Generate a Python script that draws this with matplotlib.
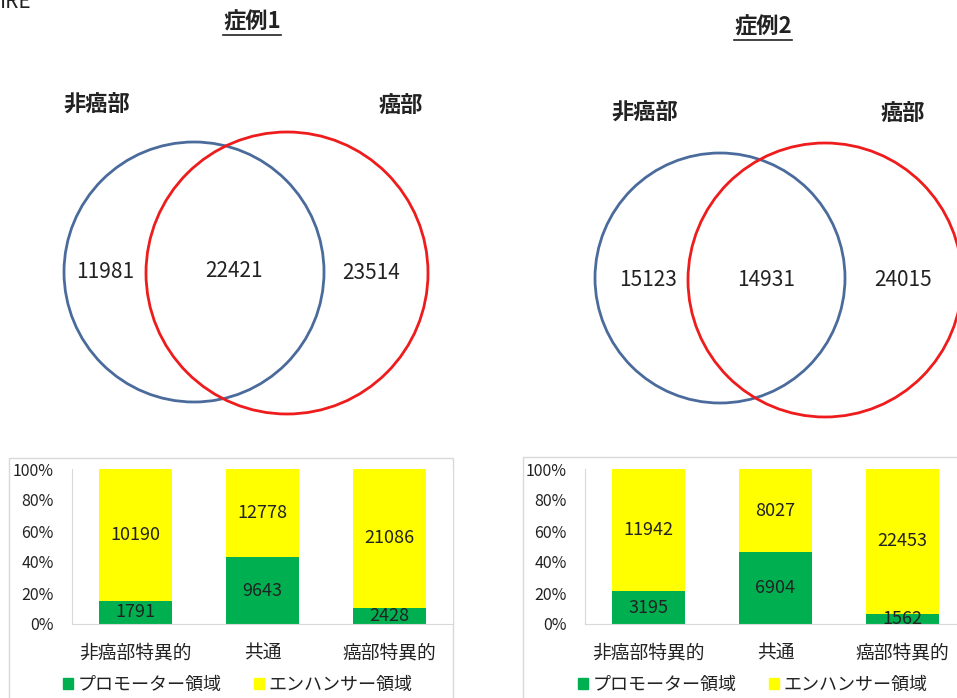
import matplotlib
matplotlib.use("Agg")
import matplotlib.pyplot as plt
from matplotlib.patches import Circle, Rectangle, Patch
from matplotlib.lines import Line2D
from matplotlib.ticker import PercentFormatter

plt.rcParams['font.family'] = ['Noto Sans CJK JP', 'DejaVu Sans']

# ベン図の数値 (非癌部のみ, 共通, 癌部のみ)
venn_case1 = [11981, 22421, 23514]
venn_case2 = [15123, 14931, 24015]

categories = ['非癌部特異的', '共通', '癌部特異的']
promoter_case1 = [1791, 9643, 2428]
enhancer_case1 = [10190, 12778, 21086]
promoter_case2 = [3195, 6904, 1562]
enhancer_case2 = [11942, 8027, 22453]

GREEN = '#00b050'
YELLOW = '#ffff00'
BLUE = '#4a6b9b'
RED = '#ee1c1c'
GRID = '#d9d9d9'
INK = '#222222'

W, H = 957, 698
fig = plt.figure(figsize=(W / 100, H / 100), dpi=100)

# 全体を覆うピクセル座標の軸 (ベン図, 見出し, 枠)
ov = fig.add_axes([0, 0, 1, 1])
ov.set_xlim(0, W)
ov.set_ylim(H, 0)
ov.axis('off')

ov.text(0, 8, 'IRE', fontsize=15, va='baseline', ha='left', color=INK)


def draw_venn(blue, red, label_l, label_r, counts, text_pos):
    ov.add_patch(Circle(blue[:2], blue[2], fill=False, ec=BLUE, lw=2.0))
    ov.add_patch(Circle(red[:2], red[2], fill=False, ec=RED, lw=2.0))
    ov.text(*label_l, '非癌部', fontsize=16, fontweight='bold', ha='center', va='center', color=INK)
    ov.text(*label_r, '癌部', fontsize=16, fontweight='bold', ha='center', va='center', color=INK)
    for (x, y), n in zip(text_pos, counts):
        ov.text(x, y, str(n), fontsize=15, ha='center', va='center', color=INK)


draw_venn((194, 272, 130), (287, 273, 141), (97, 105), (401, 105),
          venn_case1, [(105, 272), (234, 271), (371, 273)])
draw_venn((720, 278, 125), (825, 280, 137), (645, 113), (903, 113),
          venn_case2, [(648, 280), (766, 280), (903, 280)])

titles = []
for x, y, s in [(252, 22, '症例1'), (763, 27, '症例2')]:
    titles.append(ov.text(x, y, s, fontsize=16, fontweight='bold', ha='center', va='center', color=INK))

# グラフの枠
ov.add_patch(Rectangle((9, 458), 444, 260, fill=False, ec=GRID, lw=1.0))
ov.add_patch(Rectangle((523, 457), 460, 260, fill=False, ec=GRID, lw=1.0))


def draw_bars(left_px, promoter, enhancer, legend_x):
    ax = fig.add_axes([left_px / W, (H - 624) / H, 381 / W, 155 / H])
    totals = [p + e for p, e in zip(promoter, enhancer)]
    p_frac = [p / t for p, t in zip(promoter, totals)]
    e_frac = [e / t for e, t in zip(enhancer, totals)]
    x = range(len(categories))
    b1 = ax.bar(x, p_frac, width=0.575, color=GREEN)
    b2 = ax.bar(x, e_frac, width=0.575, bottom=p_frac, color=YELLOW)
    ax.bar_label(b1, labels=[str(v) for v in promoter], label_type='center', fontsize=13, color=INK)
    ax.bar_label(b2, labels=[str(v) for v in enhancer], label_type='center', fontsize=13, color=INK)
    ax.set_xlim(-0.5, 2.5)
    ax.set_ylim(0, 1)
    ax.set_yticks([0, 0.2, 0.4, 0.6, 0.8, 1.0])
    ax.yaxis.set_major_formatter(PercentFormatter(1.0, decimals=0))
    ax.set_xticks(list(x))
    ax.set_xticklabels(categories)
    ax.tick_params(axis='y', length=0, pad=13, labelsize=11.5, labelcolor=INK)
    ax.tick_params(axis='x', length=0, pad=13, labelsize=13.5, labelcolor=INK)
    for side in ['top', 'right']:
        ax.spines[side].set_visible(False)
    for side in ['left', 'bottom']:
        ax.spines[side].set_color(GRID)
    handles = [Patch(color=GREEN, label='プロモーター領域'),
               Patch(color=YELLOW, label='エンハンサー領域')]
    fig.legend(handles=handles, loc='center', bbox_to_anchor=(legend_x / W, (H - 685) / H),
               ncol=2, frameon=False, fontsize=13, handlelength=0.55, handleheight=0.55,
               handletextpad=0.25, columnspacing=1.8, labelcolor=INK)


draw_bars(72, promoter_case1, enhancer_case1, 238)
draw_bars(585, promoter_case2, enhancer_case2, 753)

# 見出しに下線を引く
fig.canvas.draw()
renderer = fig.canvas.get_renderer()
for t in titles:
    bb = t.get_window_extent(renderer)
    y = bb.y0 - 1
    fig.add_artist(Line2D([bb.x0 / W, bb.x1 / W], [y / H, y / H], color=INK, lw=1.2))

fig.savefig('out.png', dpi=100)
